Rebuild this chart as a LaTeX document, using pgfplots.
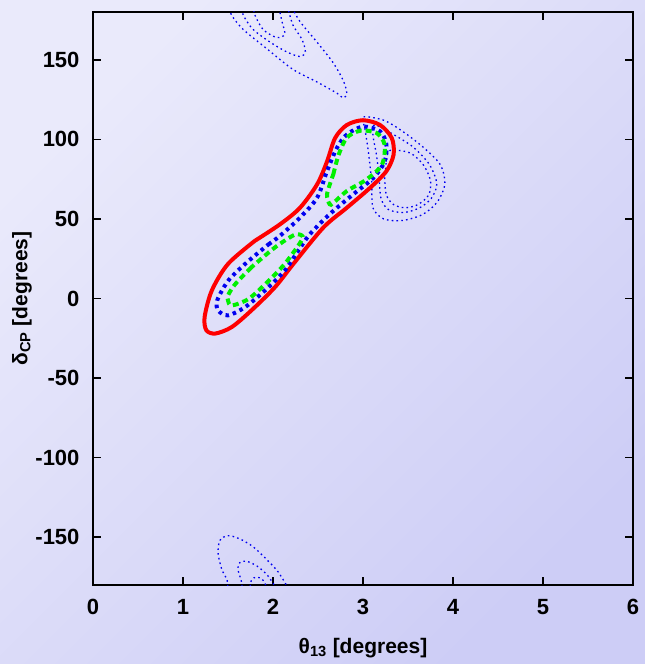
\documentclass[border=0pt]{standalone}
\usepackage{fontspec}
\setmainfont{Liberation Sans}
\usepackage{pgfplots}
\pgfplotsset{compat=1.18}
\usetikzlibrary{backgrounds}

\definecolor{bgtop}{RGB}{234,234,251}
\definecolor{bgbot}{RGB}{205,205,246}
\definecolor{cred}{RGB}{255,0,0}
\definecolor{cblue}{RGB}{0,0,240}
\definecolor{cgreen}{RGB}{0,240,0}

\begin{document}
\begin{tikzpicture}
\begin{axis}[
    name=ax, scale only axis, width=540pt, height=573pt,
    xmin=0, xmax=6, ymin=-180, ymax=180,
    xtick={0,1,...,6}, ytick={-150,-100,...,150},
    tick align=inside, major tick length=8pt,
    axis line style={line width=2pt},
    tick style={line width=1.6pt, black},
    ticklabel style={font=\bfseries\fontsize{22}{24}\selectfont},
    xticklabel style={yshift=-11pt},
    yticklabel style={xshift=-10pt},
    /pgf/number format/assume math mode=true,
    xlabel={θ\textsubscript{13} [degrees]},
    ylabel={δ\textsubscript{CP} [degrees]},
    every axis x label/.style={at={(axis description cs:0.5,-0.110)}, anchor=center,
        font=\bfseries\fontsize{21}{24}\selectfont},
    every axis y label/.style={at={(axis description cs:-0.1315,0.5)}, rotate=90, anchor=center,
        font=\bfseries\fontsize{21}{24}\selectfont},
    thin contour/.style={cblue, line width=1.3pt, dash pattern=on 1.6pt off 3.2pt, smooth},
]
% thin dotted contours
\addplot[thin contour] coordinates {(1.50,185)(1.54,178)(1.67,169)(1.93,157)(2.22,144)(2.49,136)(2.71,129)(2.78,126)(2.82,129)(2.78,137)(2.67,148)(2.49,161)(2.30,174)(2.20,184)};
\addplot[thin contour] coordinates {(1.64,185)(1.67,178)(1.78,169)(1.97,161)(2.15,155)(2.30,152)(2.36,155)(2.32,163)(2.22,172)(2.16,184)};
\addplot[thin contour] coordinates {(1.78,184)(1.80,178)(1.89,169)(2.04,164)(2.13,166)(2.10,174)(2.06,184)};
\addplot[thin contour] coordinates {(1.50,-184)(1.49,-177)(1.43,-170)(1.39,-160)(1.41,-152)(1.50,-149)(1.63,-151)(1.78,-156)(1.93,-164)(2.06,-172)(2.19,-184)};
\addplot[thin contour] coordinates {(1.66,-184)(1.65,-178)(1.61,-170)(1.63,-166)(1.70,-165)(1.82,-168)(1.94,-174)(2.06,-184)};
\addplot[thin contour] coordinates {(1.74,-184)(1.76,-177)(1.82,-175)(1.89,-177)(1.95,-184)};
\addplot[thin contour] coordinates {(3.10,72)(3.11,57)(3.23,50)(3.44,49)(3.67,53)(3.83,61)(3.91,72)(3.86,84)(3.67,95)(3.44,105)(3.23,112)(3.00,114)(3.02,107)(3.06,92)(3.10,72)};
\addplot[thin contour] coordinates {(3.18,76)(3.20,63)(3.28,56)(3.45,54)(3.63,57)(3.76,63)(3.82,72)(3.74,84)(3.56,95)(3.34,103)(3.13,109)(3.11,103)(3.15,90)(3.18,76)};
\addplot[thin contour] coordinates {(3.24,76)(3.26,65)(3.34,59)(3.47,57)(3.61,59)(3.73,65)(3.75,74)(3.67,84)(3.52,91.5)(3.30,93)(3.26,86)(3.24,76)};
% red solid contour
\addplot[cred, line width=4pt, smooth] coordinates {(1.80,36.3)(2.08,46.7)(2.30,57)(2.49,71.7)(2.60,86)(2.69,100.8)(2.82,109)(3.00,112)(3.19,109)(3.32,100.8)(3.34,90.4)(3.26,80)(3.08,69.6)(2.82,57)(2.56,44.6)(2.23,22)(2.02,7)(1.76,-7.5)(1.54,-18)(1.36,-22)(1.26,-20)(1.24,-11.7)(1.32,5)(1.50,21.7)(1.80,36.3)};
% blue thick dotted contour
\addplot[cblue, line width=4pt, dash pattern=on 3.5pt off 4pt, smooth] coordinates {(1.95,34)(2.08,39.5)(2.30,50.8)(2.49,63.3)(2.60,80)(2.71,94.6)(2.82,103)(3.00,108)(3.19,105)(3.26,96.7)(3.24,86)(3.115,75.8)(2.89,65.4)(2.63,53)(2.41,40.4)(2.28,30)(2.13,17.5)(1.91,5)(1.69,-5.4)(1.50,-10.6)(1.39,-7.5)(1.38,-1.2)(1.50,11)(1.69,21.7)(1.95,34)};
% green dashed islands
\addplot[cgreen, line width=4pt, dash pattern=on 6pt off 4pt, smooth] coordinates {(1.76,19.6)(1.58,9)(1.50,2)(1.50,-1.2)(1.54,-4.4)(1.73,-0.2)(1.95,11)(2.13,21.7)(2.29,34)(2.33,39)(2.24,40)(2.02,32)(1.76,19.6)};
\addplot[cgreen, line width=4pt, dash pattern=on 6pt off 4pt, smooth] coordinates {(2.67,78)(2.73,90.4)(2.82,101)(2.97,105.4)(3.15,104)(3.24,96.7)(3.21,84)(3.04,74.8)(2.82,67.5)(2.67,60)(2.63,59.2)(2.60,65.4)(2.67,78)};
\end{axis}
\begin{scope}[on background layer]
\shade[shading=axis, top color=bgtop, bottom color=bgbot, shading angle=45]
  ([xshift=-93pt,yshift=-79pt]ax.south west) rectangle ([xshift=12pt,yshift=12pt]ax.north east);
\end{scope}
\end{tikzpicture}
\end{document}
